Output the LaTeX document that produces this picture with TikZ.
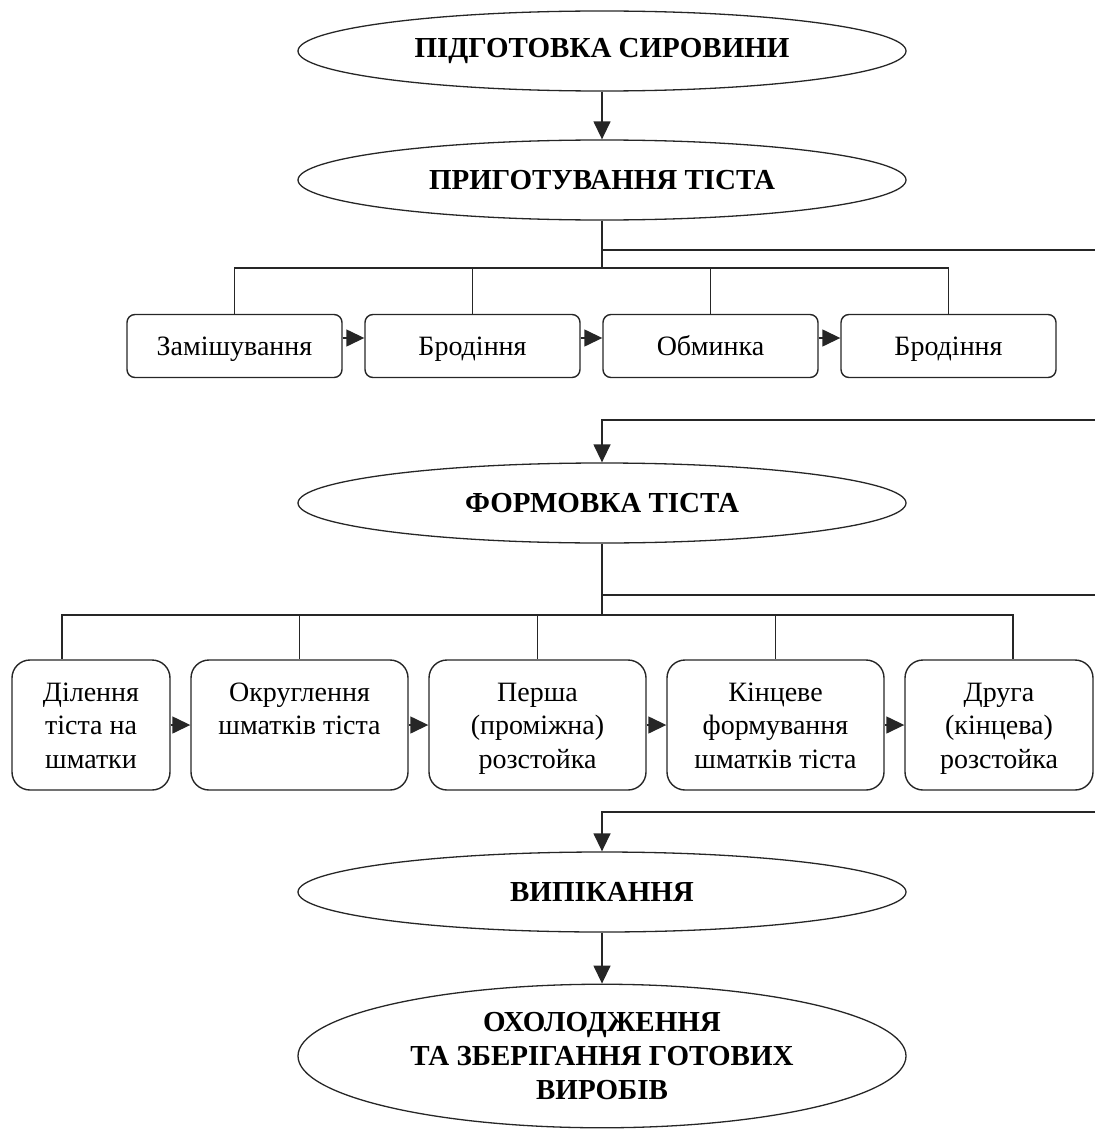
\documentclass[tikz,border=0pt]{standalone}
\usepackage{fontspec}
\setmainfont{Liberation Serif}
\usetikzlibrary{arrows.meta,shapes.geometric,calc}
\newcommand\lnstrut{\rule[-7pt]{0pt}{33.5pt}}
\begin{document}
\begin{tikzpicture}[x=1pt,y=-1pt,
  line width=1.4pt,
  ln/.style={draw=black!85},
  stage/.style={draw=black!85, ellipse, line width=1.3pt, minimum width=608, minimum height=80, inner sep=0pt, align=center, font=\bfseries\fontsize{29}{34}\selectfont},
  opbox/.style={draw=black!85, rounded corners=8pt, line width=1.4pt, minimum width=215, minimum height=63, inner sep=0pt, align=center, font=\fontsize{28}{33.5}\selectfont},
  opbig/.style={draw=black!85, rounded corners=18pt, line width=1.4pt, minimum width=217, minimum height=130, inner sep=0pt, align=center, font=\fontsize{28}{33.5}\selectfont},
  arr/.style={ln, -{Triangle[length=18pt,width=17pt]}},
]
\useasboundingbox (0,0) rectangle (1095,1129);

% stages
\node[stage] (e1) at (602,51) {ПІДГОТОВКА СИРОВИНИ};
\node[stage] (e2) at (602,180) {ПРИГОТУВАННЯ ТІСТА};
\node[stage] (e3) at (602,503) {ФОРМОВКА ТІСТА};
\node[stage] (e4) at (602,892) {ВИПІКАННЯ};
\node[stage, minimum height=142] (e5) at (602,1056) {\lnstrut ОХОЛОДЖЕННЯ\\\lnstrut ТА ЗБЕРІГАННЯ ГОТОВИХ\\\lnstrut ВИРОБІВ};

% row 1
\node[opbox] (s1) at (234.5,346) {\lnstrut Замішування};
\node[opbox] (s2) at (472.5,346) {\lnstrut Бродіння};
\node[opbox] (s3) at (710.5,346) {\lnstrut Обминка};
\node[opbox] (s4) at (948.5,346) {\lnstrut Бродіння};

% row 2
\node[opbig, minimum width=158] (d1) at (91,725) {\lnstrut Ділення\\\lnstrut тіста на\\\lnstrut шматки};
\node[opbig] (d2) at (299.5,725) {\lnstrut Округлення\\\lnstrut шматків тіста\\\lnstrut};
\node[opbig] (d3) at (537.5,725) {\lnstrut Перша\\\lnstrut (проміжна)\\\lnstrut розстойка};
\node[opbig] (d4) at (775.5,725) {\lnstrut Кінцеве\\\lnstrut формування\\\lnstrut шматків тіста};
\node[opbig, minimum width=188] (d5) at (999,725) {\lnstrut Друга\\\lnstrut (кінцева)\\\lnstrut розстойка};

% junction coordinates
\coordinate (j1) at (602,268);
\coordinate (j2) at (602,615);
\coordinate (r1) at (1095,250);
\coordinate (r2) at (1095,420);
\coordinate (r3) at (1095,595);
\coordinate (r4) at (1095,812);

% main flow
\draw[arr] (e1) -- (e2);
\draw[ln] (e2.south) -- (j1);
\draw[ln] (e2.south |- r1) -- (r1);
\foreach \b in {s1,s2,s3,s4} \draw[ln] (j1) -| (\b.north);
\draw[arr] (r2) -| (e3.north);
\draw[ln] (e3.south) -- (j2);
\draw[ln] (e3.south |- r3) -- (r3);
\draw[ln] (j2) -| ([xshift=-29pt]d1.north);
\draw[ln] (j2) -| (d2.north);
\draw[ln] (j2) -| (d3.north);
\draw[ln] (j2) -| (d4.north);
\draw[ln] (j2) -| ([xshift=14pt]d5.north);
\draw[arr] (r4) -| (e4.north);
\draw[arr] (e4) -- (e5);

% sequence arrows
\draw[arr] ([yshift=8pt]s1.east) -- ([yshift=8pt]s2.west);
\draw[arr] ([yshift=8pt]s2.east) -- ([yshift=8pt]s3.west);
\draw[arr] ([yshift=8pt]s3.east) -- ([yshift=8pt]s4.west);
\draw[arr] (d1.east) -- (d2.west);
\draw[arr] (d2.east) -- (d3.west);
\draw[arr] (d3.east) -- (d4.west);
\draw[arr] (d4.east) -- (d5.west);
\end{tikzpicture}
\end{document}
